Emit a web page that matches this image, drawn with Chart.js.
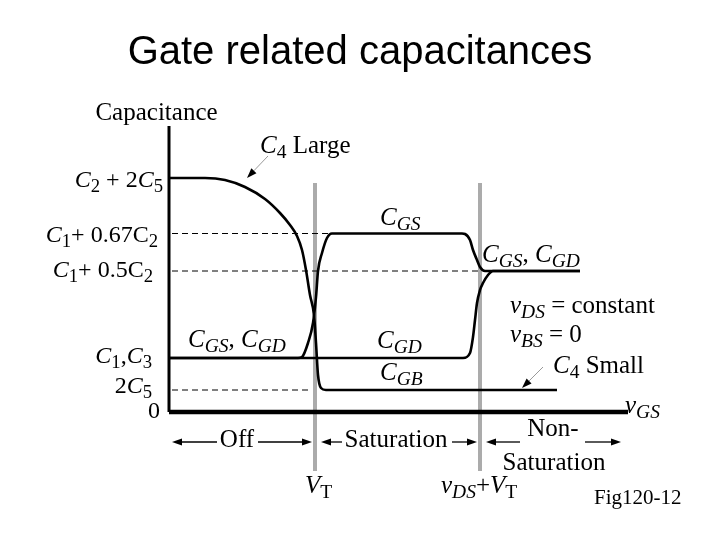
<!DOCTYPE html>
<html><head><meta charset="utf-8">
<script src="https://cdn.jsdelivr.net/npm/chart.js@4/dist/chart.umd.min.js"></script>
<style>html,body{margin:0;padding:0;background:#fff;overflow:hidden}#wrap{width:720px;height:540px}</style>
</head><body><div id="wrap"><canvas id="c" width="720" height="540"></canvas></div>
<script>
// ---- data (x: v_GS in arbitrary units, y: capacitance in arbitrary units) ----
const levelValues = [23.4, 17.85, 14.1, 5.4, 2.2, 0];
const thresholdX = [14.6, 31.1];          // V_T, v_DS + V_T
const axisTopY = 28.6;
const axisEndX = 45.9;

const cgbX = [0, 3.6, 5.6, 7.6, 9.6, 11.1, 12.1, 12.8, 13.3, 13.7, 14.1, 14.5, 14.7, 14.9, 15.2, 15.7, 38.8];
const cgbY = [23.4, 23.4, 23.2, 22.5, 21.3, 19.9, 18.7, 17.6, 16.2, 14.2, 11.7, 9.7, 6.9, 3.7, 2.4, 2.2, 2.2];

const cgsX = [0, 12.9, 13.3, 13.9, 14.4, 14.7, 14.9, 15.3, 15.8, 16.3, 29.3, 29.6, 30.1, 30.4, 30.8, 31.1, 31.6, 41.1];
const cgsY = [5.4, 5.4, 5.5, 6.9, 8.9, 11.5, 14.1, 15.9, 17.4, 17.85, 17.85, 17.8, 17.2, 16.2, 15.2, 14.5, 14.1, 14.1];

const cgdX = [0, 29.4, 30.1, 30.4, 30.6, 30.8, 31.1, 31.4, 31.9, 32.4, 41.1];
const cgdY = [5.4, 5.4, 5.9, 7.5, 9.2, 10.9, 12.2, 12.9, 13.7, 14.1, 14.1];

const dashedLevels = [17.85, 14.1, 2.2];
const dashedEnds = [15.9, 31.1, 14.0];

const tickLabels = [
  [['C','i'],['2','s'],[' + 2',''],['C','i'],['5','s']],
  [['C','i'],['1','s'],['+ 0.67C',''],['2','s']],
  [['C','i'],['1','s'],['+ 0.5C',''],['2','s']],
  [['C','i'],['1','s'],[',',''],['C','i'],['3','s']],
  [['2',''],['C','i'],['5','s']],
  [['0','']]
];
const regionNames = ['Off', 'Saturation', 'Non-', 'Saturation'];

// ---- layout of text (data coordinates) ----
const tickPos = [[-0.6,22.5],[-1.1,17.0],[-1.6,13.5],[-1.7,4.9],[-1.7,1.9],[-0.9,-0.6]];
const notes = [
  {s:[['Capacitance','']], x:-1.25, y:29.2, a:'center'},
  {s:[['C','i'],['4','s'],[' Large','']], x:9.1, y:25.9},
  {s:[['C','i'],['GS','is']], x:21.1, y:18.7},
  {s:[['C','i'],['GS','is'],[', ',''],['C','i'],['GD','is']], x:31.3, y:15.0},
  {s:[['v','i'],['DS','is'],[' = constant','']], x:34.1, y:9.9},
  {s:[['v','i'],['BS','is'],[' = 0','']], x:34.1, y:7.0},
  {s:[['C','i'],['4','s'],[' Small','']], x:38.4, y:3.9},
  {s:[['C','i'],['GD','is']], x:20.8, y:6.4},
  {s:[['C','i'],['GB','is']], x:21.1, y:3.2},
  {s:[['C','i'],['GS','is'],[', ',''],['C','i'],['GD','is']], x:1.9, y:6.5},
  {s:[['v','i'],['GS','is']], x:45.6, y:-0.1},
  {s:[['V','i'],['T','s']], x:13.6, y:-8.1},
  {s:[['v','i'],['DS','is'],['+',''],['V','i'],['T','s']], x:27.2, y:-8.1},
  {s:[['Fig120-12','']], x:42.5, y:-9.2, size:21}
];
const regionPos = [[6.8,-3.5],[22.7,-3.5],[38.4,-2.4],[38.5,-5.8]];
const rowArrows = [[4.8,0.3],[8.9,14.3],[17.3,15.2],[28.3,30.8],[35.1,31.7],[41.6,45.2]];
const rowArrowY = -3.0;
const pointerArrows = [[9.9,25.6,7.8,23.4],[37.4,4.5,35.3,2.4]];

const pts = (xs, ys) => xs.map((x, i) => ({x, y: ys[i]}));
const curve = (label, xs, ys) => ({label, data: pts(xs, ys), borderColor:'#000', borderWidth:2.6,
  pointRadius:0, cubicInterpolationMode:'monotone', fill:false, order:1});

const datasets = [
  curve('C_GB', cgbX, cgbY),
  curve('C_GS', cgsX, cgsY),
  curve('C_GD', cgdX, cgdY),
  ...dashedLevels.map((v, i) => ({label:'level', data:[{x:0.3,y:v},{x:dashedEnds[i],y:v}],
    borderColor:'#000', borderWidth:1, borderDash:[6,4], pointRadius:0, order:2})),
  ...thresholdX.map((v) => ({label:'threshold', data:[{x:v,y:22.9},{x:v,y:-5.9}],
    borderColor:'#ababab', borderWidth:4, pointRadius:0, order:5})),
  {label:'y axis', data:[{x:0,y:axisTopY},{x:0,y:levelValues[5]}], borderColor:'#000', borderWidth:3, pointRadius:0, order:0},
  {label:'x axis', data:[{x:0,y:levelValues[5]},{x:axisEndX,y:levelValues[5]}], borderColor:'#000', borderWidth:4.5, pointRadius:0, order:0}
];

const SERIF = '"Liberation Serif","Times New Roman",serif';
function drawRich(ctx, segs, px, py, align, size) {
  const parts = segs.map(([t, st]) => {
    const it = st.includes('i'), sub = st.includes('s');
    const fs = sub ? size * 0.78 : size;
    const font = (it ? 'italic ' : '') + fs + 'px ' + SERIF;
    ctx.font = font;
    return {t, font, w: ctx.measureText(t).width, dy: sub ? size * 0.2 : 0};
  });
  const total = parts.reduce((a, p) => a + p.w, 0);
  let x = align === 'right' ? px - total : align === 'center' ? px - total / 2 : px;
  ctx.textAlign = 'left'; ctx.textBaseline = 'alphabetic'; ctx.fillStyle = '#000';
  for (const p of parts) { ctx.font = p.font; ctx.fillText(p.t, x, py + p.dy); x += p.w; }
}
function arrow(ctx, x1, y1, x2, y2, lineColor, lw) {
  const ang = Math.atan2(y2 - y1, x2 - x1), L = 10, W = 3.5;
  const bx = x2 - L * Math.cos(ang), by = y2 - L * Math.sin(ang);
  ctx.strokeStyle = lineColor; ctx.lineWidth = lw;
  ctx.beginPath(); ctx.moveTo(x1, y1); ctx.lineTo(bx, by); ctx.stroke();
  ctx.fillStyle = '#000'; ctx.beginPath();
  ctx.moveTo(x2, y2);
  ctx.lineTo(bx + W * Math.sin(ang), by - W * Math.cos(ang));
  ctx.lineTo(bx - W * Math.sin(ang), by + W * Math.cos(ang));
  ctx.closePath(); ctx.fill();
}

const textPlugin = {
  id: 'figText',
  afterDraw(chart) {
    const ctx = chart.ctx, X = chart.scales.x, Y = chart.scales.y;
    const px = v => X.getPixelForValue(v), py = v => Y.getPixelForValue(v);
    ctx.save();
    tickLabels.forEach((segs, i) => drawRich(ctx, segs, px(tickPos[i][0]), py(tickPos[i][1]), 'right', 24));
    notes.forEach(n => drawRich(ctx, n.s, px(n.x), py(n.y), n.a || 'left', n.size || 25));
    regionNames.forEach((t, i) => drawRich(ctx, [[t, '']], px(regionPos[i][0]), py(regionPos[i][1]), 'center', 25));
    rowArrows.forEach(a => arrow(ctx, px(a[0]), py(rowArrowY), px(a[1]), py(rowArrowY), '#000', 1.3));
    pointerArrows.forEach(a => arrow(ctx, px(a[0]), py(a[1]), px(a[2]), py(a[3]), '#999', 1));
    ctx.restore();
  }
};

new Chart(document.getElementById('c'), {
  type: 'line',
  data: {datasets},
  options: {
    responsive: false, animation: false, events: [], devicePixelRatio: 1,
    layout: {padding: 0},
    scales: {
      x: {type:'linear', min:-16.9, max:55.1, display:false},
      y: {type:'linear', min:-12.8, max:28.7, display:false}
    },
    plugins: {
      legend: {display:false}, tooltip: {enabled:false},
      title: {display:true, text:'Gate related capacitances', color:'#000',
        font: {family:'"Liberation Sans", Arial, sans-serif', size:40, weight:'normal'},
        padding: {top:29, bottom:48}}
    }
  },
  plugins: [textPlugin]
});
</script></body></html>
